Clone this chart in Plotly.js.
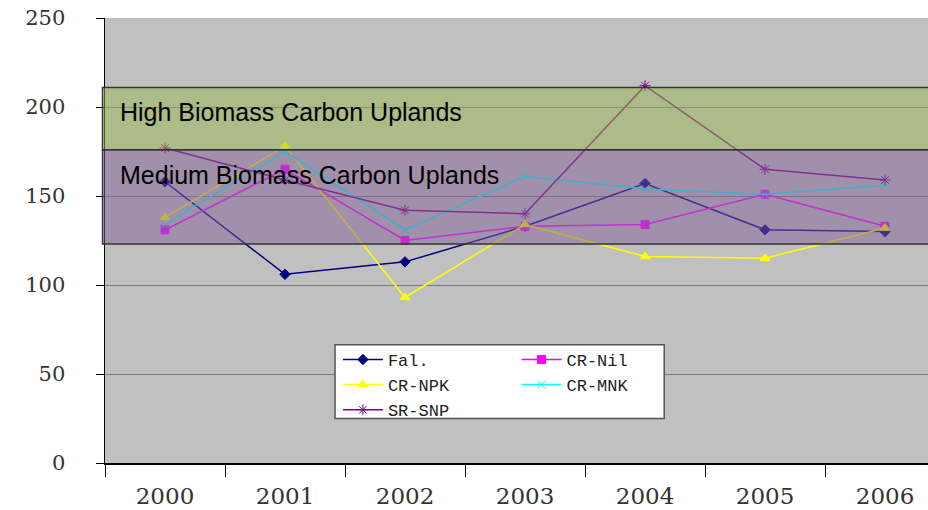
<!DOCTYPE html>
<html>
<head>
<meta charset="utf-8">
<script src="https://cdn.plot.ly/plotly-3.0.1.min.js"></script>
<style>html,body{margin:0;padding:0;background:#fff;}#chart{width:928px;height:510px;}</style>
</head>
<body>
<div id="chart"></div>
<script>
const years = ['2000','2001','2002','2003','2004','2005','2006'];
const fal   = [158, 106, 113, 133, 157, 131, 130];
const crNil = [131, 165, 125, 133, 134, 151, 133];
const crNpk = [138, 178, 93, 134, 116, 115, 132];
const crMnk = [134, 175, 131, 161, 154, 151, 156];
const srSnp = [177, 159, 142, 140, 212, 165, 159];
const highBand = [176, 211];
const mediumBand = [123, 176];
const bandLabels = ['High Biomass Carbon Uplands', 'Medium Biomass Carbon Uplands'];

const mk = (name, y, color, symbol, size, legend) => ({
  type: 'scatter', mode: 'lines+markers', name: name, x: years, y: y,
  line: {color: color, width: 1.5},
  marker: {color: color, symbol: symbol, size: size, line: {color: color, width: 1}},
  legend: legend
});

const data = [
  mk('Fal.', fal, '#000080', 'diamond', 8, 'legend'),
  mk('CR-Nil', crNil, '#FF00FF', 'square', 8, 'legend2'),
  mk('CR-NPK', crNpk, '#FFFF00', 'triangle-up', 9, 'legend'),
  mk('CR-MNK', crMnk, '#00FFFF', 'x-thin-open', 8, 'legend2'),
  mk('SR-SNP', srSnp, '#800080', 'asterisk-open', 9, 'legend')
];

const legFont = {family: 'Liberation Mono, monospace', size: 17, color: '#222'};
const layout = {
  width: 928, height: 510,
  margin: {l: 105, r: 0, t: 18, b: 47},
  paper_bgcolor: '#ffffff',
  plot_bgcolor: '#C0C0C0',
  showlegend: true,
  xaxis: {
    type: 'category', range: [-0.5, 6.358], tickson: 'boundaries',
    ticks: 'outside', ticklen: 12, tickcolor: '#000', tickwidth: 1,
    showline: true, linecolor: '#000', linewidth: 1.5,
    showgrid: false, zeroline: false,
    tickfont: {family: 'DejaVu Serif, serif', size: 23, color: '#333'},
    ticklabelstandoff: 12
  },
  yaxis: {
    range: [0, 250], dtick: 50, tick0: 0,
    ticks: 'outside', ticklen: 8, tickcolor: '#000',
    showline: true, linecolor: '#000', linewidth: 1.5,
    showgrid: true, gridcolor: '#7a7a7a', gridwidth: 1, zeroline: false,
    tickfont: {family: 'DejaVu Serif, serif', size: 21, color: '#333'},
    ticklabelstandoff: 26
  },
  legend: {x: 0.283, y: 0.272, xanchor: 'left', yanchor: 'top', bgcolor: 'rgba(0,0,0,0)', borderwidth: 0, font: legFont, tracegroupgap: 0, itemwidth: 40},
  legend2: {x: 0.5, y: 0.272, xanchor: 'left', yanchor: 'top', bgcolor: 'rgba(0,0,0,0)', borderwidth: 0, font: legFont, tracegroupgap: 0, itemwidth: 40},
  shapes: [
    {type: 'rect', layer: 'above', xref: 'paper', yref: 'y', x0: -0.003, x1: 1.01, y0: highBand[0], y1: highBand[1],
     fillcolor: 'rgba(152,184,82,0.5)', line: {color: '#333', width: 1.5}},
    {type: 'rect', layer: 'above', xref: 'paper', yref: 'y', x0: -0.003, x1: 1.01, y0: mediumBand[0], y1: mediumBand[1],
     fillcolor: 'rgba(130,95,150,0.5)', line: {color: '#333', width: 1.5}},
    {type: 'rect', layer: 'above', xref: 'paper', yref: 'paper', x0: 0.2795, x1: 0.6795, y0: 0.1, y1: 0.266,
     fillcolor: '#ffffff', line: {color: '#555', width: 1.5}}
  ],
  annotations: [
    {xref: 'paper', yref: 'y', x: 0.016, y: 197, xanchor: 'left', yanchor: 'middle', showarrow: false,
     text: bandLabels[0], font: {family: 'Liberation Sans, Arial, sans-serif', size: 25, color: '#000'}},
    {xref: 'paper', yref: 'y', x: 0.016, y: 162, xanchor: 'left', yanchor: 'middle', showarrow: false,
     text: bandLabels[1], font: {family: 'Liberation Sans, Arial, sans-serif', size: 25, color: '#000'}}
  ]
};

Plotly.newPlot('chart', data, layout, {displayModeBar: false, staticPlot: true});
</script>
</body>
</html>
